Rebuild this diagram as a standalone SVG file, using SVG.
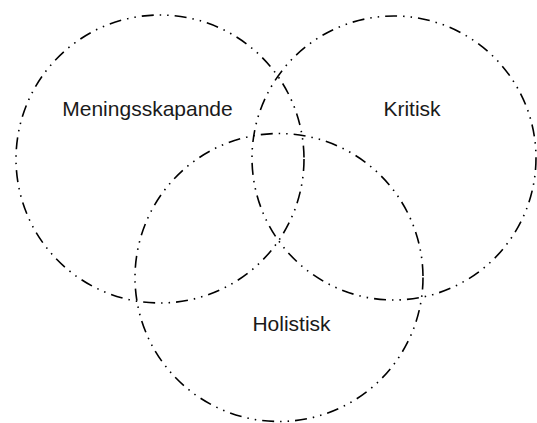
<svg xmlns="http://www.w3.org/2000/svg" width="537" height="423" viewBox="0 0 537 423">
<style>
.c{fill:none;stroke:#000;stroke-width:1.6;stroke-dasharray:12 6 1.5 6 1.5 6}
.t{font-family:"Liberation Sans",Arial,sans-serif;font-size:21px;fill:#1a1a1a;text-anchor:middle}
</style>
<rect width="537" height="423" fill="#fff"/>
<g id="connectors"></g>
<g id="meningsskapande"><circle class="c" cx="160" cy="159" r="144"/><text class="t" x="147.5" y="116">Meningsskapande</text></g>
<g id="kritisk"><circle class="c" cx="394" cy="158" r="142"/><text class="t" x="412" y="116">Kritisk</text></g>
<g id="holistisk"><circle class="c" cx="279" cy="277.5" r="144"/><text class="t" x="291.5" y="331">Holistisk</text></g>
</svg>
